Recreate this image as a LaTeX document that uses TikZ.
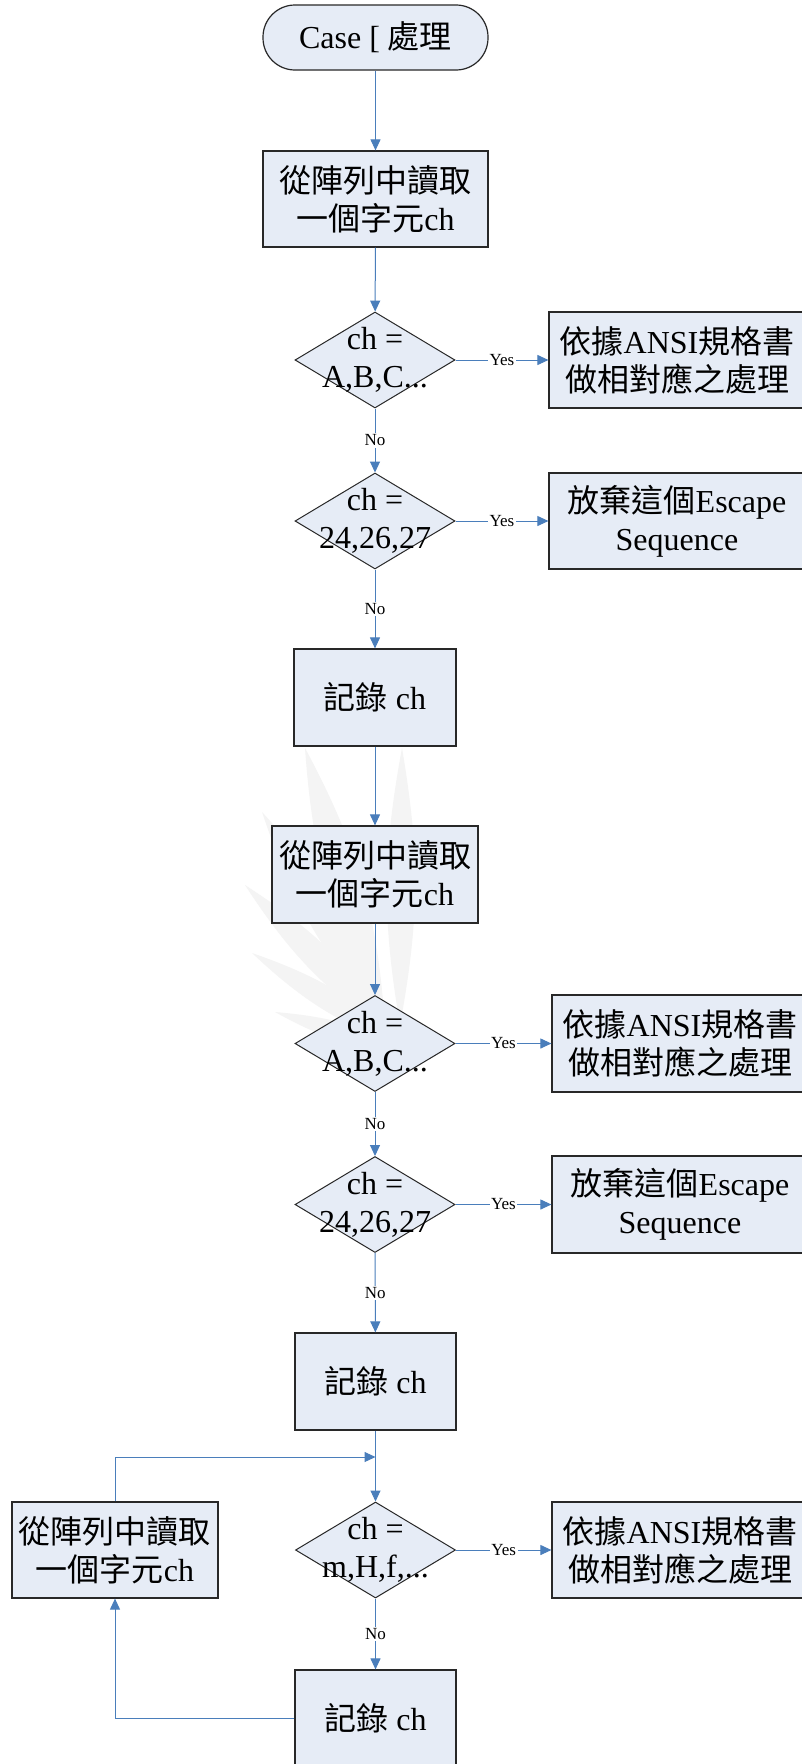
\documentclass[tikz,border=0pt]{standalone}
\usepackage{fontspec}
\setmainfont{Liberation Serif}
\newfontfamily\cjk{Noto Sans CJK TC}
\usetikzlibrary{arrows.meta,shapes.geometric}
\definecolor{fillc}{RGB}{230,236,246}
\definecolor{linec}{RGB}{74,126,187}
\definecolor{edgec}{RGB}{40,40,40}
\definecolor{wmark}{RGB}{244,244,244}
\begin{document}
\begin{tikzpicture}[x=1pt,y=-1pt,
  box/.style={draw=edgec, line width=1.2pt, fill=fillc, inner sep=0pt, align=center,
              font=\fontsize{32}{38}\selectfont},
  term/.style={box, rounded corners=32pt},
  dec/.style={diamond, draw=edgec, line width=1pt, fill=fillc, inner sep=0pt,
              minimum width=160pt, minimum height=96pt},
  dtxt/.style={align=center, inner sep=0pt, font=\fontsize{32}{38}\selectfont},
  conn/.style={draw=linec, line width=1pt, -{Triangle[length=11pt,width=10pt]}},
  yn/.style={fill=white, inner sep=1.5pt, font=\fontsize{17}{17}\selectfont},
  leaf/.style={fill=wmark, draw=none}]
\useasboundingbox (0,0) rectangle (801,1764);
\fill[white] (0,0) rectangle (801,1764);

% faint watermark leaves
\path[leaf] (305,748) to[bend left=12] (385,1025) to[bend left=12] (305,748);
\path[leaf] (402,748) to[bend right=10] (400,1025) to[bend right=10] (402,748);
\path[leaf] (262,812) to[bend left=12] (392,1032) to[bend left=12] (262,812);
\path[leaf] (245,885) to[bend left=12] (402,1042) to[bend left=12] (245,885);
\path[leaf] (252,953) to[bend left=12] (412,1050) to[bend left=12] (252,953);
\path[leaf] (275,1012) to[bend left=12] (420,1056) to[bend left=12] (275,1012);

% main column
\node[term, minimum width=225pt, minimum height=65pt] (t) at (375.5,37.5) {Case [ {\cjk 處理}};
\node[box, minimum width=225pt, minimum height=96pt] (b1) at (375.5,199) {{\cjk 從陣列中讀取}\\{\cjk 一個字元}ch};
\node[dec] (d1) at (375,360) {};
\node[dtxt] (d1t) at (d1) {ch =\\A,B,C...};
\node[box, minimum width=256pt, minimum height=96pt] (r1) at (677,360) {{\cjk 依據}ANSI{\cjk 規格書}\\{\cjk 做相對應之處理}};
\node[dec] (d2) at (375,521) {};
\node[dtxt] (d2t) at (d2) {ch =\\24,26,27};
\node[box, minimum width=256pt, minimum height=96pt] (r2) at (677,521) {{\cjk 放棄這個}Escape\\Sequence};
\node[box, minimum width=162pt, minimum height=97pt] (c1) at (375,697.5) {{\cjk 記錄} ch};
\node[box, minimum width=206pt, minimum height=97pt] (b2) at (375,874.5) {{\cjk 從陣列中讀取}\\{\cjk 一個字元}ch};
\node[dec] (d3) at (375,1043.5) {};
\node[dtxt] (d3t) at (d3) {ch =\\A,B,C...};
\node[box, minimum width=256pt, minimum height=97pt] (r3) at (680,1043.5) {{\cjk 依據}ANSI{\cjk 規格書}\\{\cjk 做相對應之處理}};
\node[dec] (d4) at (375,1204.5) {};
\node[dtxt] (d4t) at (d4) {ch =\\24,26,27};
\node[box, minimum width=256pt, minimum height=97pt] (r4) at (680,1204.5) {{\cjk 放棄這個}Escape\\Sequence};
\node[box, minimum width=161pt, minimum height=97pt] (c2) at (375.5,1381.5) {{\cjk 記錄} ch};
\node[dec] (d5) at (375.5,1550) {};
\node[dtxt] (d5t) at (d5) {ch =\\m,H,f,...};
\node[box, minimum width=256pt, minimum height=96pt] (r5) at (680,1550) {{\cjk 依據}ANSI{\cjk 規格書}\\{\cjk 做相對應之處理}};
\node[box, minimum width=206pt, minimum height=96pt] (lb) at (115,1550) {{\cjk 從陣列中讀取}\\{\cjk 一個字元}ch};
\node[box, minimum width=161pt, minimum height=97pt] (c3) at (375.5,1718.5) {{\cjk 記錄} ch};
\coordinate (j) at (375.5,1457);

% connectors
\draw[conn] (t) -- (b1);
\draw[conn] (b1) -- (d1);
\draw[conn] (d1) -- node[yn]{Yes} (r1);
\draw[conn] (d1) -- node[yn]{No} (d2);
\draw[conn] (d2) -- node[yn]{Yes} (r2);
\draw[conn] (d2) -- node[yn]{No} (c1);
\draw[conn] (c1) -- (b2);
\draw[conn] (b2) -- (d3);
\draw[conn] (d3) -- node[yn]{Yes} (r3);
\draw[conn] (d3) -- node[yn]{No} (d4);
\draw[conn] (d4) -- node[yn]{Yes} (r4);
\draw[conn] (d4) -- node[yn]{No} (c2);
\draw[conn] (c2) -- (d5);
\draw[conn] (d5) -- node[yn]{Yes} (r5);
\draw[conn] (d5) -- node[yn]{No} (c3);
\draw[conn] (c3.west) -| (lb.south);
\draw[conn] (lb.north) |- (j);
\end{tikzpicture}
\end{document}
